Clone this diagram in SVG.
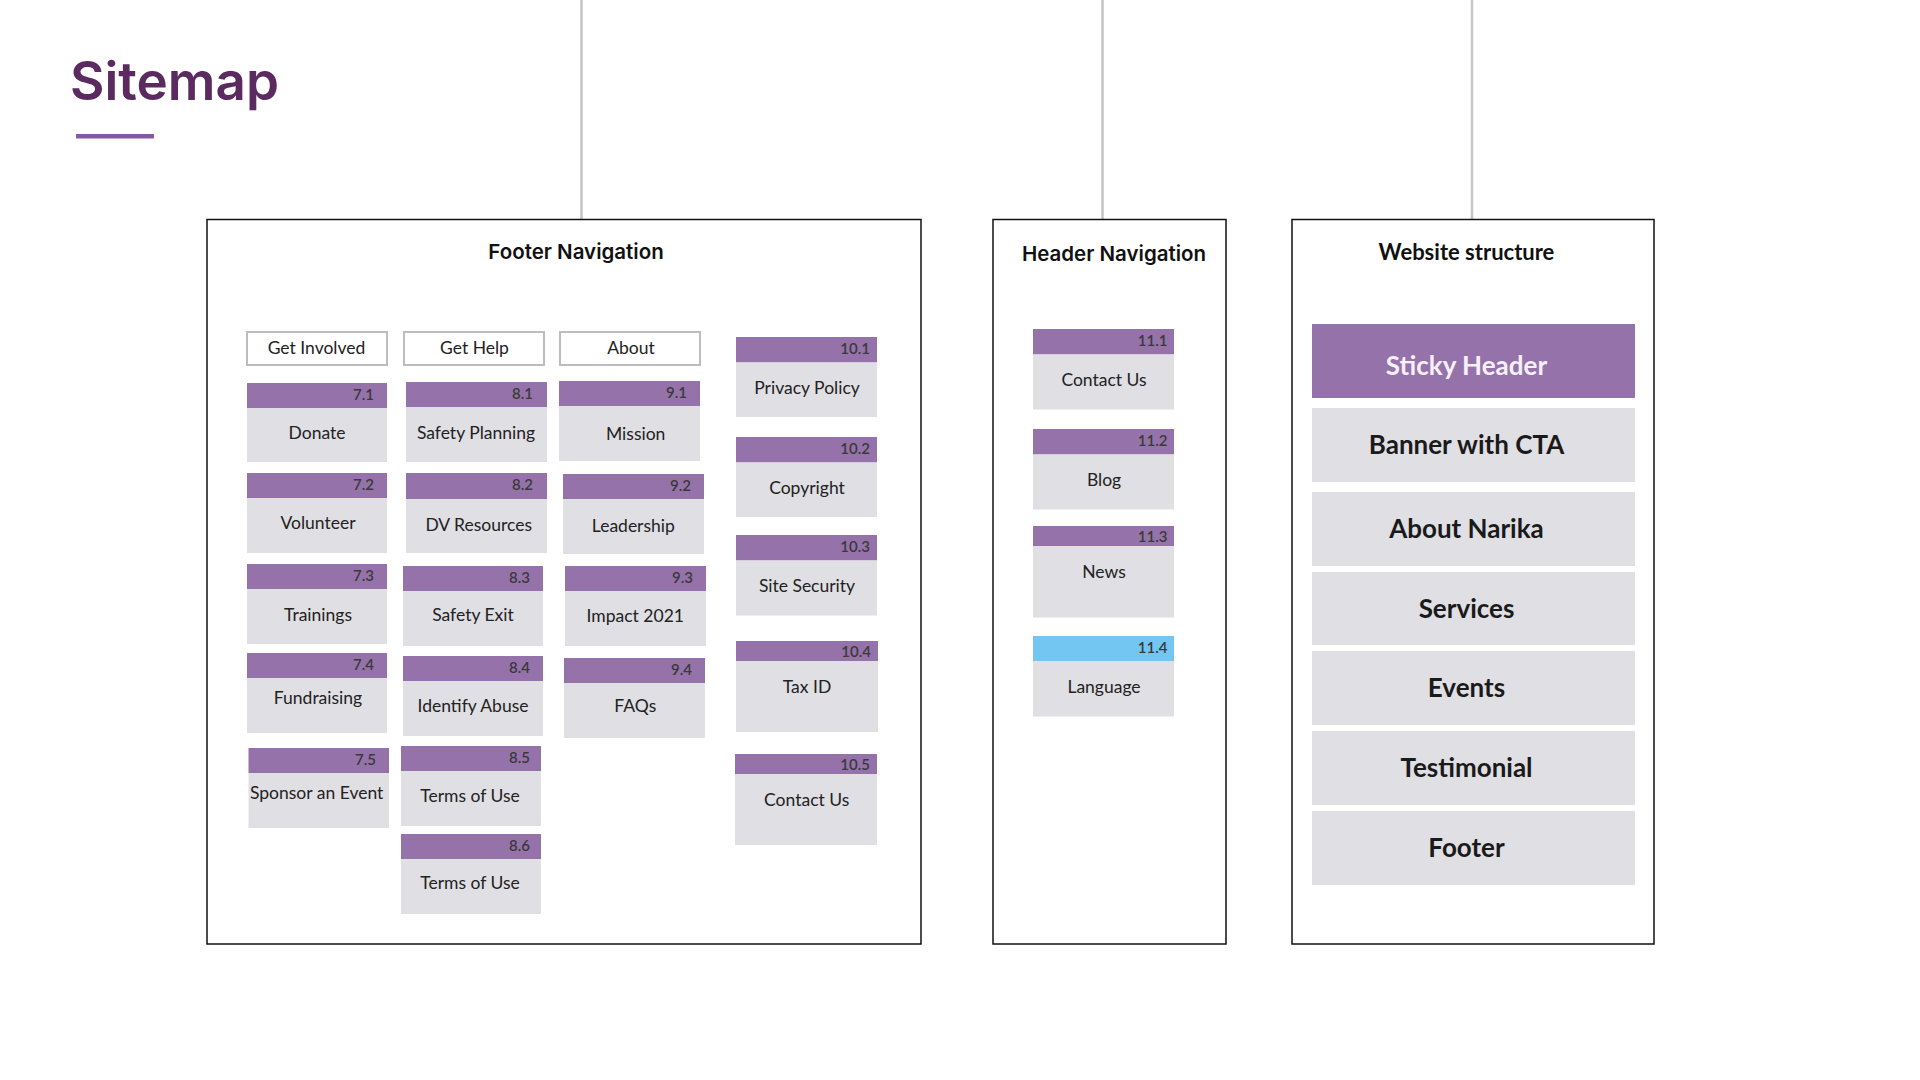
<svg xmlns="http://www.w3.org/2000/svg" width="1920" height="1080" viewBox="0 0 1920 1080">
<style>
.bg{fill:#ffffff}
.panel{fill:#ffffff;stroke:#111111;stroke-width:1.5}
.conn{stroke:#c4c4c4;stroke-width:2.5;fill:none}
.hd{fill:#9572a9}
.hdb{fill:#73c5f2}
.bd{fill:#e0dfe4}
.btn{fill:#ffffff;stroke:#bdbdbd;stroke-width:2}
.num{font-family:Lato,"Liberation Sans",sans-serif;font-size:15px;font-weight:600;fill:#3a3a3a;text-anchor:end}
.lbl{font-family:Lato,"Liberation Sans",sans-serif;font-size:17.5px;fill:#222222;text-anchor:middle}
.ptitle{font-family:Inter,"Liberation Sans",sans-serif;font-size:20.5px;font-weight:600;fill:#111111;text-anchor:middle}
.wtitle{font-family:Lato,"Liberation Sans",sans-serif;font-size:22px;font-weight:700;fill:#111111;text-anchor:middle}
.ws{fill:#e0dfe4}
.wsh{fill:#9572a9}
.wl{font-family:Lato,"Liberation Sans",sans-serif;font-size:26px;font-weight:700;fill:#1a1a1a;text-anchor:middle}
.wlw{font-family:Lato,"Liberation Sans",sans-serif;font-size:26px;font-weight:700;fill:#f6f0fa;text-anchor:middle}
</style>
<rect class="bg" x="0" y="0" width="1920" height="1080"/>
<g id="title">
<text x="70" y="100" font-family="Inter,'Liberation Sans',sans-serif" font-size="53" font-weight="600" fill="#5b2a60" textLength="209" lengthAdjust="spacingAndGlyphs">Sitemap</text>
<rect x="76" y="134" width="78" height="4.5" fill="#8559a5"/>
</g>
<g id="connectors">
<line class="conn" x1="581.5" y1="0" x2="581.5" y2="219"/>
<line class="conn" x1="1102.5" y1="0" x2="1102.5" y2="219"/>
<line class="conn" x1="1472" y1="0" x2="1472" y2="219"/>
</g>
<g id="footer-navigation">
<rect class="panel" x="207" y="219.5" width="714" height="724.5"/>
<text class="ptitle" x="576" y="259">Footer Navigation</text>
<g id="btn-get-involved"><rect class="btn" x="247" y="332" width="140" height="33"/><text class="lbl" x="316.5" y="354">Get Involved</text></g>
<g id="btn-get-help"><rect class="btn" x="404" y="332" width="140" height="33"/><text class="lbl" x="474.5" y="354">Get Help</text></g>
<g id="btn-about"><rect class="btn" x="560" y="332" width="140" height="33"/><text class="lbl" x="631" y="354">About</text></g>

<g id="n7-1"><rect class="hd" x="247" y="383" width="140" height="25"/><rect class="bd" x="247" y="408" width="140" height="54"/><text class="num" x="374" y="399.5">7.1</text><text class="lbl" x="317" y="439">Donate</text></g>
<g id="n7-2"><rect class="hd" x="247" y="473" width="140" height="25"/><rect class="bd" x="247" y="498" width="140" height="55"/><text class="num" x="374" y="489.5">7.2</text><text class="lbl" x="318" y="529">Volunteer</text></g>
<g id="n7-3"><rect class="hd" x="247" y="564" width="140" height="25"/><rect class="bd" x="247" y="589" width="140" height="55"/><text class="num" x="374" y="580.5">7.3</text><text class="lbl" x="318" y="621">Trainings</text></g>
<g id="n7-4"><rect class="hd" x="247" y="653" width="140" height="25"/><rect class="bd" x="247" y="678" width="140" height="55"/><text class="num" x="374" y="669.5">7.4</text><text class="lbl" x="318" y="704">Fundraising</text></g>
<g id="n7-5"><rect class="hd" x="248.5" y="748" width="140.5" height="25"/><rect class="bd" x="248.5" y="773" width="140.5" height="55"/><text class="num" x="376" y="764.5">7.5</text><text class="lbl" x="316.7" y="799">Sponsor an Event</text></g>

<g id="n8-1"><rect class="hd" x="406" y="382" width="141" height="25"/><rect class="bd" x="406" y="407" width="141" height="55"/><text class="num" x="533" y="398.5">8.1</text><text class="lbl" x="476" y="439">Safety Planning</text></g>
<g id="n8-2"><rect class="hd" x="406" y="473" width="141" height="26"/><rect class="bd" x="406" y="499" width="141" height="54"/><text class="num" x="533" y="489.5">8.2</text><text class="lbl" x="478.7" y="531">DV Resources</text></g>
<g id="n8-3"><rect class="hd" x="403" y="566" width="140" height="25"/><rect class="bd" x="403" y="591" width="140" height="55"/><text class="num" x="530" y="582.5">8.3</text><text class="lbl" x="473" y="621">Safety Exit</text></g>
<g id="n8-4"><rect class="hd" x="403" y="656" width="140" height="25"/><rect class="bd" x="403" y="681" width="140" height="55"/><text class="num" x="530" y="672.5">8.4</text><text class="lbl" x="473" y="712">Identify Abuse</text></g>
<g id="n8-5"><rect class="hd" x="401" y="746" width="140" height="25"/><rect class="bd" x="401" y="771" width="140" height="55"/><text class="num" x="530" y="762.5">8.5</text><text class="lbl" x="470" y="802">Terms of Use</text></g>
<g id="n8-6"><rect class="hd" x="401" y="834" width="140" height="25"/><rect class="bd" x="401" y="859" width="140" height="55"/><text class="num" x="530" y="850.5">8.6</text><text class="lbl" x="470" y="889">Terms of Use</text></g>

<g id="n9-1"><rect class="hd" x="559" y="381" width="141" height="25"/><rect class="bd" x="559" y="406" width="141" height="55"/><text class="num" x="687" y="397.5">9.1</text><text class="lbl" x="635.7" y="440">Mission</text></g>
<g id="n9-2"><rect class="hd" x="563" y="474" width="141" height="25"/><rect class="bd" x="563" y="499" width="141" height="55"/><text class="num" x="691" y="490.5">9.2</text><text class="lbl" x="633.3" y="532">Leadership</text></g>
<g id="n9-3"><rect class="hd" x="565" y="566" width="141" height="25"/><rect class="bd" x="565" y="591" width="141" height="55"/><text class="num" x="693" y="582.5">9.3</text><text class="lbl" x="635.3" y="622">Impact 2021</text></g>
<g id="n9-4"><rect class="hd" x="564" y="658" width="141" height="25"/><rect class="bd" x="564" y="683" width="141" height="55"/><text class="num" x="692" y="674.5">9.4</text><text class="lbl" x="635.3" y="712">FAQs</text></g>

<g id="n10-1"><rect class="hd" x="736" y="337" width="141" height="25.5"/><rect class="bd" x="736" y="362.5" width="141" height="54.5"/><text class="num" x="870" y="353.5">10.1</text><text class="lbl" x="807" y="393.5">Privacy Policy</text></g>
<g id="n10-2"><rect class="hd" x="736" y="437" width="141" height="25.5"/><rect class="bd" x="736" y="462.5" width="141" height="54.5"/><text class="num" x="870" y="453.5">10.2</text><text class="lbl" x="807" y="493.5">Copyright</text></g>
<g id="n10-3"><rect class="hd" x="736" y="535" width="141" height="25.5"/><rect class="bd" x="736" y="560.5" width="141" height="55"/><text class="num" x="870" y="551.5">10.3</text><text class="lbl" x="807" y="592">Site Security</text></g>
<g id="n10-4"><rect class="hd" x="736" y="641" width="142" height="20"/><rect class="bd" x="736" y="661" width="142" height="71"/><text class="num" x="871" y="657">10.4</text><text class="lbl" x="807" y="693">Tax ID</text></g>
<g id="n10-5"><rect class="hd" x="735" y="754" width="142" height="20"/><rect class="bd" x="735" y="774" width="142" height="71"/><text class="num" x="870" y="770">10.5</text><text class="lbl" x="806.7" y="805.5">Contact Us</text></g>
</g>
<g id="header-navigation">
<rect class="panel" x="993" y="219.5" width="233" height="724.5"/>
<text class="ptitle" x="1114" y="261" font-size="21.5">Header Navigation</text>
<g id="n11-1"><rect class="hd" x="1033" y="329" width="141" height="25.5"/><rect class="bd" x="1033" y="354.5" width="141" height="55"/><text class="num" x="1167.5" y="345.5">11.1</text><text class="lbl" x="1104" y="386">Contact Us</text></g>
<g id="n11-2"><rect class="hd" x="1033" y="429" width="141" height="25.5"/><rect class="bd" x="1033" y="454.5" width="141" height="55"/><text class="num" x="1167.5" y="445.5">11.2</text><text class="lbl" x="1104" y="486">Blog</text></g>
<g id="n11-3"><rect class="hd" x="1033" y="526" width="141" height="20"/><rect class="bd" x="1033" y="546" width="141" height="71.5"/><text class="num" x="1167.5" y="542">11.3</text><text class="lbl" x="1104" y="578">News</text></g>
<g id="n11-4"><rect class="hdb" x="1033" y="636" width="141" height="25"/><rect class="bd" x="1033" y="661" width="141" height="55.5"/><text class="num" x="1167.5" y="652.5">11.4</text><text class="lbl" x="1104" y="693">Language</text></g>
</g>
<g id="website-structure">
<rect class="panel" x="1292" y="219.5" width="362" height="724.5"/>
<text class="wtitle" x="1466.5" y="260">Website structure</text>
<g id="ws-sticky-header"><rect class="wsh" x="1312" y="324" width="323" height="74"/><text class="wlw" x="1466.5" y="375">Sticky Header</text></g>
<g id="ws-banner"><rect class="ws" x="1312" y="408" width="323" height="74"/><text class="wl" x="1466.5" y="454">Banner with CTA</text></g>
<g id="ws-about"><rect class="ws" x="1312" y="492" width="323" height="74"/><text class="wl" x="1466.5" y="538">About Narika</text></g>
<g id="ws-services"><rect class="ws" x="1312" y="572" width="323" height="73"/><text class="wl" x="1466.5" y="618">Services</text></g>
<g id="ws-events"><rect class="ws" x="1312" y="651" width="323" height="74"/><text class="wl" x="1466.5" y="697">Events</text></g>
<g id="ws-testimonial"><rect class="ws" x="1312" y="731" width="323" height="74"/><text class="wl" x="1466.5" y="777">Testimonial</text></g>
<g id="ws-footer"><rect class="ws" x="1312" y="811" width="323" height="74"/><text class="wl" x="1466.5" y="857">Footer</text></g>
</g>
</svg>
